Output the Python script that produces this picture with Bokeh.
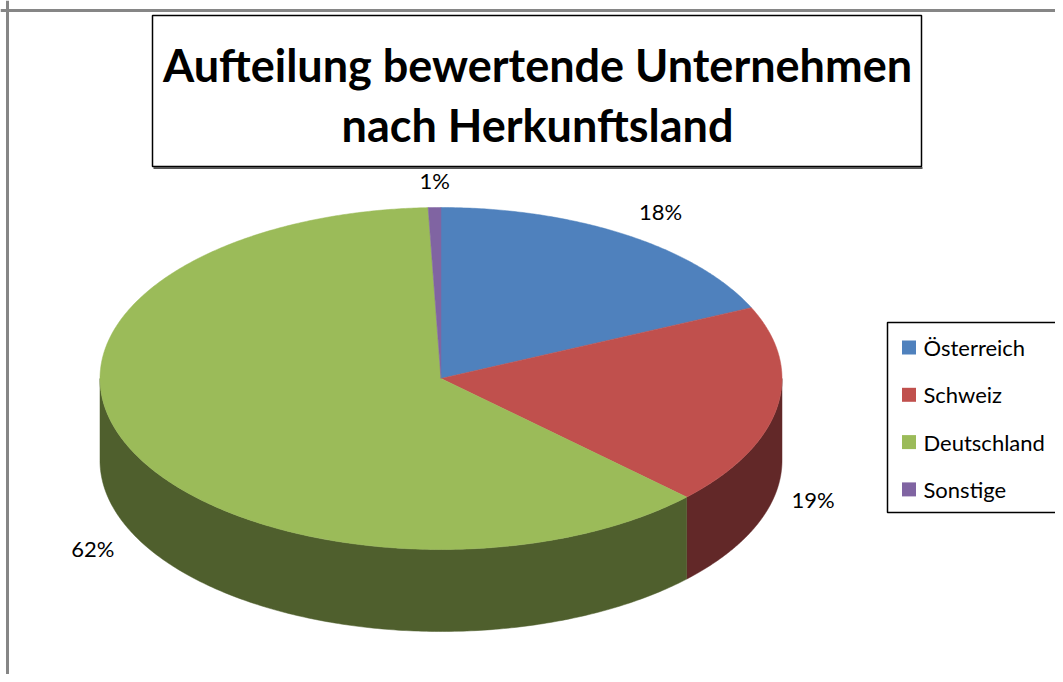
import numpy as np
from bokeh.plotting import figure
from bokeh.models import Range1d, Span
from bokeh.core.properties import value
from bokeh.embed import file_html
from bokeh.resources import INLINE

# ---- data ----
categories = ["Österreich", "Schweiz", "Deutschland", "Sonstige"]
shares = [18.2, 19.0, 62.2, 0.6]
top_colors = ["#4F81BD", "#C0504D", "#9BBB59", "#8064A2"]
side_colors = ["#2C4A70", "#622828", "#4F5F2D", "#4A3A60"]
title_lines = ["Aufteilung bewertende Unternehmen", "nach Herkunftsland"]

# ---- layout (pixel space of the reference) ----
CX, CY, RX, RY, DEPTH = 440.5, 378.0, 341.0, 171.0, 82.0
label_offsets = [(35, -23), (36, 92), (-37, 100), (0, -27)]
FONT = "Lato"

p = figure(width=1055, height=674, output_backend="svg", toolbar_location=None,
           x_range=Range1d(0, 1055), y_range=Range1d(674, 0), min_border=0)
p.axis.visible = False
p.grid.visible = False
p.outline_line_color = None
p.background_fill_color = "white"
p.border_fill_color = "white"

# outer chart border (top + left)
p.add_layout(Span(location=10, dimension="width", line_color="#868686", line_width=3))
p.add_layout(Span(location=7, dimension="height", line_color="#868686", line_width=3))

vals = np.array(shares, dtype=float)
fr = vals / vals.sum()
ends = np.cumsum(fr) * 2 * np.pi
starts = ends - fr * 2 * np.pi


def ept(t):
    # clockwise angle t from 12 o'clock -> screen point (y grows downward)
    return CX + RX * np.sin(t), CY - RY * np.cos(t)

# side walls (front half: t in [pi/2, 3pi/2])
for s, e, c in zip(starts, ends, side_colors):
    a, b = max(s, np.pi / 2), min(e, 3 * np.pi / 2)
    if b <= a:
        continue
    t = np.linspace(a, b, 200)
    x, y = ept(t)
    xs = np.concatenate([x, x[::-1]])
    ys = np.concatenate([y, (y + DEPTH)[::-1]])
    p.patch(xs, ys, fill_color=c, line_color=c, line_width=0.5)

# top wedges
for s, e, c in zip(starts, ends, top_colors):
    t = np.linspace(s, e, max(int((e - s) * 120), 4))
    x, y = ept(t)
    xs = np.concatenate([[CX], x])
    ys = np.concatenate([[CY], y])
    p.patch(xs, ys, fill_color=c, line_color=c, line_width=0.5)

# percentage labels
mids = (starts + ends) / 2
lx, ly, lt = [], [], []
for m, v, (dx, dy) in zip(mids, fr, label_offsets):
    x, y = ept(m)
    lx.append(x + dx)
    ly.append(y + dy)
    lt.append(f"{round(v * 100):d}%")
p.text(lx, ly, text=lt, text_font=value(FONT), text_font_size="22px",
       text_color="black", text_align="center", text_baseline="middle")

# title box
p.quad(left=[152], right=[921], top=[15], bottom=[166], fill_color="white",
       line_color="black", line_width=1.5)
p.line([153, 922], [167.5, 167.5], line_color="#555555", line_width=2)
p.text([537, 537], [64, 124], text=title_lines, text_font=value(FONT),
       text_font_style="bold", text_font_size="45px", text_color="black",
       text_align="center", text_baseline="middle")

# legend
p.quad(left=[887], right=[1075], top=[322], bottom=[512], fill_color="white",
       line_color="black", line_width=1.5)
leg_y = [347 + 47.3 * i for i in range(len(categories))]
p.rect([908.5] * len(categories), leg_y, width=14, height=14,
       fill_color=top_colors, line_color=None)
p.text([923] * len(categories), leg_y, text=categories, text_font=value(FONT),
       text_font_size="22px", text_color="black", text_align="left",
       text_baseline="middle")

open("out.html", "w").write(file_html(p, INLINE))
